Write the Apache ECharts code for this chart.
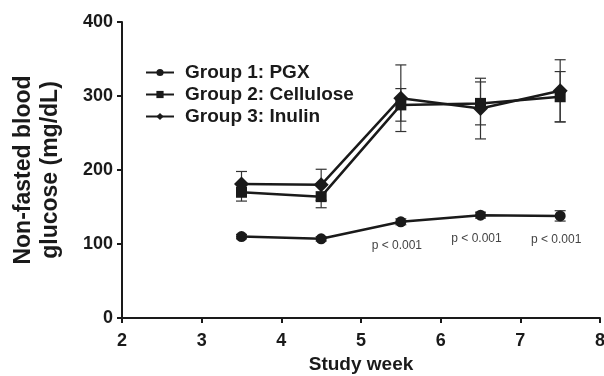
<!DOCTYPE html>
<html><head><meta charset="utf-8">
<script src="https://cdn.jsdelivr.net/npm/echarts@6/dist/echarts.min.js"></script>
<style>html,body{margin:0;padding:0;background:#fff}#c{width:604px;height:376px}</style>
</head><body><div id="c"></div>
<script>
var weeks = [3.5, 4.5, 5.5, 6.5, 7.5];
var pgxMean = [110, 107, 130, 139, 138];
var pgxErr = [3, 3, 4, 4, 7];
var celMean = [170, 164, 288, 290, 299];
var celErr = [12, 15, 22, 29, 34];
var inuMean = [181, 180, 297, 283, 307];
var inuErr = [17, 21, 45, 41, 42];
var pLabels = ['', '', 'p < 0.001', 'p < 0.001', 'p < 0.001'];
var xTicks = [2, 3, 4, 5, 6, 7, 8];
var yTicks = [0, 100, 200, 300, 400];

var FONT = '"Liberation Sans", Arial, sans-serif';
var INK = '#1a1a1a';

function pts(mean) { return weeks.map(function (w, i) { return [w, mean[i]]; }); }
function errData(mean, err) { return weeks.map(function (w, i) { return [w, mean[i] - err[i], mean[i] + err[i]]; }); }

function errSeries(mean, err) {
  return {
    type: 'custom', silent: true, z: 1,
    data: errData(mean, err),
    renderItem: function (params, api) {
      var lo = api.coord([api.value(0), api.value(1)]);
      var hi = api.coord([api.value(0), api.value(2)]);
      var hw = 5.5;
      var st = { stroke: '#333', lineWidth: 1.2 };
      return { type: 'group', children: [
        { type: 'line', shape: { x1: lo[0], y1: lo[1], x2: hi[0], y2: hi[1] }, style: st },
        { type: 'line', shape: { x1: lo[0] - hw, y1: lo[1], x2: lo[0] + hw, y2: lo[1] }, style: st },
        { type: 'line', shape: { x1: hi[0] - hw, y1: hi[1], x2: hi[0] + hw, y2: hi[1] }, style: st }
      ]};
    }
  };
}

var chart = echarts.init(document.getElementById('c'));
chart.setOption({
  animation: false,
  backgroundColor: '#fff',
  grid: { left: 122, right: 4, top: 22, bottom: 58, containLabel: false, outerBoundsMode: 'none' },
  legend: {
    orient: 'vertical', left: 140, top: 58, itemGap: 3, itemWidth: 28, itemHeight: 9,
    data: ['Group 1: PGX', 'Group 2: Cellulose', 'Group 3: Inulin'],
    textStyle: { fontFamily: FONT, fontWeight: 'bold', fontSize: 19, color: INK, padding: [0, 0, 0, 6] }
  },
  xAxis: {
    type: 'value', min: 2, max: 8, interval: 1,
    name: 'Study week', nameLocation: 'middle', nameGap: 33,
    nameTextStyle: { fontFamily: FONT, fontWeight: 'bold', fontSize: 19, color: INK },
    axisLine: { lineStyle: { color: INK, width: 2 } },
    axisTick: { show: true, length: 5, lineStyle: { color: INK, width: 2 } },
    axisLabel: { fontFamily: FONT, fontWeight: 'bold', fontSize: 18, color: INK, margin: 14,
      formatter: function (v) { return xTicks.indexOf(v) >= 0 ? String(v) : ''; } },
    splitLine: { show: false }
  },
  yAxis: {
    type: 'value', min: 0, max: 400, interval: 100,
    name: 'Non-fasted blood\nglucose (mg/dL)', nameLocation: 'middle', nameGap: 58, nameRotate: 90,
    nameTextStyle: { fontFamily: FONT, fontWeight: 'bold', fontSize: 23, color: INK, lineHeight: 27 },
    axisLine: { show: true, lineStyle: { color: INK, width: 2 } },
    axisTick: { show: true, length: 5, lineStyle: { color: INK, width: 2 } },
    axisLabel: { fontFamily: FONT, fontWeight: 'bold', fontSize: 18, color: INK, margin: 9,
      formatter: function (v) { return yTicks.indexOf(v) >= 0 ? String(v) : ''; } },
    splitLine: { show: false }
  },
  series: [
    errSeries(pgxMean, pgxErr),
    errSeries(celMean, celErr),
    errSeries(inuMean, inuErr),
    {
      name: 'Group 1: PGX', type: 'line', z: 3, data: pts(pgxMean),
      symbol: 'circle', symbolSize: 11, itemStyle: { color: INK }, lineStyle: { color: INK, width: 2.5 },
      label: { show: true, position: 'bottom', distance: 12, offset: [-4, 0],
        fontFamily: FONT, fontSize: 12, color: '#444',
        formatter: function (p) { return pLabels[p.dataIndex]; } }
    },
    {
      name: 'Group 2: Cellulose', type: 'line', z: 3, data: pts(celMean),
      symbol: 'rect', symbolSize: 11, itemStyle: { color: INK }, lineStyle: { color: INK, width: 2.5 }
    },
    {
      name: 'Group 3: Inulin', type: 'line', z: 4, data: pts(inuMean),
      symbol: 'diamond', symbolSize: 15, itemStyle: { color: INK }, lineStyle: { color: INK, width: 2.5 }
    }
  ]
});
</script></body></html>
